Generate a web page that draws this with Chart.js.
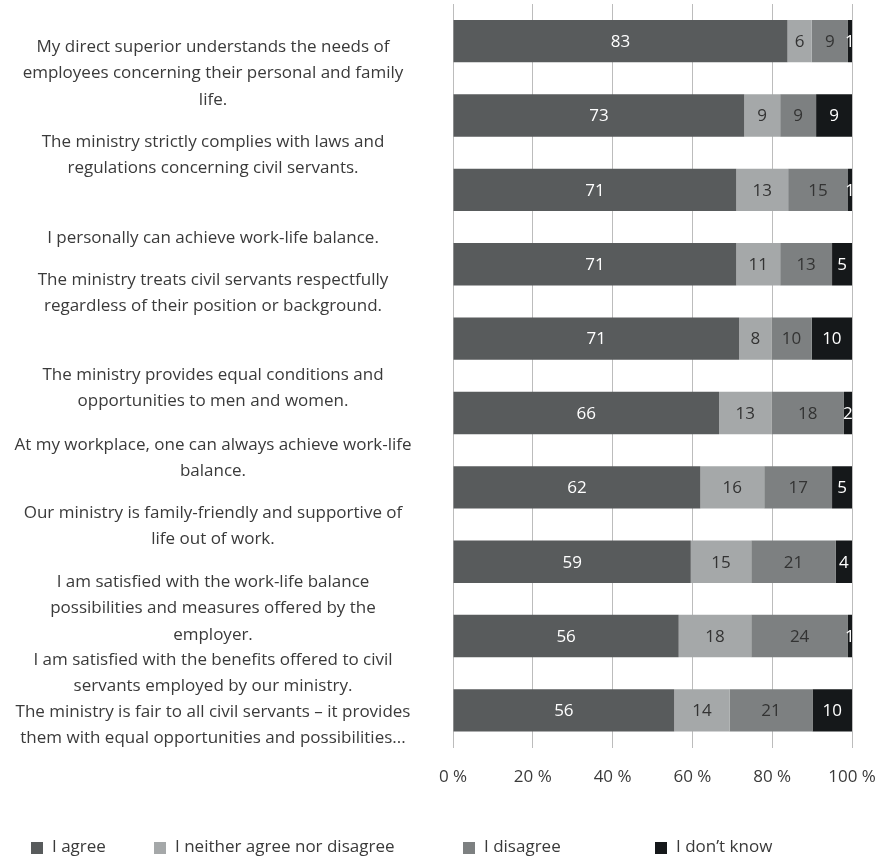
<!DOCTYPE html>
<html>
<head>
<meta charset="utf-8">
<script src="https://cdn.jsdelivr.net/npm/chart.js@4"></script>
<style>
  html, body { margin: 0; padding: 0; background: #fff; }
  #wrap { width: 884px; height: 857px; position: relative; }
</style>
</head>
<body>
<div id="wrap"><canvas id="wlbChart"></canvas></div>
<script>
// statements, one entry per bar, each split into display lines
const statements = [
    ['My direct superior understands the needs of', 'employees concerning their personal and family', 'life.'],
    ['The ministry strictly complies with laws and', 'regulations concerning civil servants.'],
    ['I personally can achieve work-life balance.'],
    ['The ministry treats civil servants respectfully', 'regardless of their position or background.'],
    ['The ministry provides equal conditions and', 'opportunities to men and women.'],
    ['At my workplace, one can always achieve work-life', 'balance.'],
    ['Our ministry is family-friendly and supportive of', 'life out of work.'],
    ['I am satisfied with the work-life balance', 'possibilities and measures offered by the', 'employer.'],
    ['I am satisfied with the benefits offered to civil', 'servants employed by our ministry.'],
    ['The ministry is fair to all civil servants \u2013 it provides', 'them with equal opportunities and possibilities...']
];

const answerLabels = ['I agree', 'I neither agree nor disagree', 'I disagree', 'I don\u2019t know'];

// answer shares in %, as reported (rows do not always add to exactly 100)
const agree    = [83, 73, 71, 71, 71, 66, 62, 59, 56, 56];
const neither  = [6, 9, 13, 11, 8, 13, 16, 15, 18, 14];
const disagree = [9, 9, 15, 13, 10, 18, 17, 21, 24, 21];
const dontKnow = [1, 9, 1, 5, 10, 2, 5, 4, 1, 10];

const xTicks = [0, 20, 40, 60, 80, 100];

const fills = ['#585b5c', '#a5a8a9', '#7d8081', '#15181a'];
const valueColors = ['#ffffff', '#333333', '#333333', '#ffffff'];

// text block placement on the left (first line of each statement)
const labelCenterX = 213;
const labelFirstLineY = [47, 142, 238, 280, 375, 445, 513, 582, 660, 712];
const labelLineHeight = 26.5;
const legendX = [31, 154, 463, 655];
const legendY = 847;

const FONT = '"Open Sans", "Noto Sans", sans-serif';
const TEXT = '#3a3a3a';

const rawSeries = [agree, neither, disagree, dontKnow];
const rowTotals = agree.map((_, i) => rawSeries.reduce((s, arr) => s + arr[i], 0));

// 100 % stacked: every row is scaled to its own total
const datasets = rawSeries.map((arr, k) => ({
    label: answerLabels[k],
    data: arr.map((v, i) => v / rowTotals[i] * 100),
    raw: arr,
    backgroundColor: fills[k],
    borderWidth: 0,
    categoryPercentage: 0.57,
    barPercentage: 1.0
}));

const statementText = {
    id: 'statementText',
    afterDraw(chart) {
        const ctx = chart.ctx;
        ctx.save();
        ctx.font = '17px ' + FONT;
        ctx.fillStyle = TEXT;
        ctx.textAlign = 'center';
        ctx.textBaseline = 'middle';
        statements.forEach((lines, i) => {
            lines.forEach((line, j) => {
                ctx.fillText(line, labelCenterX, labelFirstLineY[i] + j * labelLineHeight);
            });
        });
        ctx.restore();
    }
};

const segmentValues = {
    id: 'segmentValues',
    afterDatasetsDraw(chart) {
        const ctx = chart.ctx;
        ctx.save();
        ctx.font = '17px ' + FONT;
        ctx.textAlign = 'center';
        ctx.textBaseline = 'middle';
        chart.data.datasets.forEach((ds, k) => {
            const meta = chart.getDatasetMeta(k);
            meta.data.forEach((bar, i) => {
                const { x, base, y } = bar.getProps(['x', 'base', 'y'], true);
                ctx.fillStyle = valueColors[k];
                ctx.fillText(String(ds.raw[i]), (x + base) / 2, y + 1);
            });
        });
        ctx.restore();
    }
};

const bottomLegend = {
    id: 'bottomLegend',
    afterDraw(chart) {
        const ctx = chart.ctx;
        ctx.save();
        ctx.font = '17px ' + FONT;
        ctx.textAlign = 'left';
        ctx.textBaseline = 'middle';
        chart.data.datasets.forEach((ds, k) => {
            const x = legendX[k];
            ctx.fillStyle = ds.backgroundColor;
            ctx.fillRect(x, legendY - 5, 12, 12);
            ctx.fillStyle = TEXT;
            ctx.fillText(ds.label, x + 21, legendY);
        });
        ctx.restore();
    }
};

new Chart(document.getElementById('wlbChart'), {
    type: 'bar',
    data: {
        labels: statements.map(l => l.join(' ')),
        datasets
    },
    options: {
        indexAxis: 'y',
        responsive: true,
        maintainAspectRatio: false,
        animation: false,
        layout: { padding: { left: 453, right: 32, top: 4, bottom: 51 } },
        plugins: {
            legend: { display: false },
            tooltip: { enabled: false }
        },
        scales: {
            x: {
                stacked: true,
                min: 0,
                max: 100,
                afterBuildTicks(scale) {
                    scale.ticks = xTicks.map(v => ({ value: v }));
                },
                // let the "100 %" label run past the plot edge
                afterFit(scale) {
                    scale.paddingRight = 0;
                    scale.paddingLeft = 0;
                },
                ticks: {
                    padding: 19,
                    color: TEXT,
                    font: { family: FONT, size: 17 },
                    callback: v => v + ' %'
                },
                grid: { color: '#bcbcbc', lineWidth: 1, drawTicks: false },
                border: { display: false }
            },
            y: {
                stacked: true,
                display: false
            }
        }
    },
    plugins: [statementText, segmentValues, bottomLegend]
});
</script>
</body>
</html>
